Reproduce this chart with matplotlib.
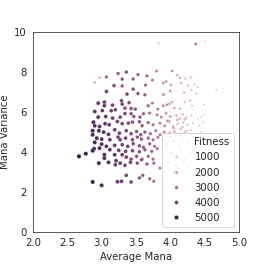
import matplotlib
matplotlib.use("Agg")
import matplotlib.pyplot as plt
from matplotlib.lines import Line2D
import seaborn as sns
import pandas as pd

# points: average mana, mana variance, fitness
avg_mana = [
    3.83, 4.37, 4.50,
    3.24, 3.36, 3.53, 3.66, 3.80, 4.03, 4.10, 4.14, 4.22, 4.30,
    2.90, 2.97, 3.07, 3.18, 3.30, 3.30, 3.46, 3.64, 3.74, 3.90, 3.94, 4.01, 4.16, 4.26, 4.36, 4.67,
    3.07, 3.37, 3.46, 3.53, 3.63, 3.90, 4.00, 4.20, 4.31, 4.38, 4.40,
    2.95, 3.04, 3.04, 3.16, 3.29, 3.30, 3.40, 3.34, 3.43, 3.49, 3.68, 3.74, 3.82, 3.90, 3.95, 3.99,
    4.03, 4.06, 4.14, 4.21, 4.32, 4.49, 4.29,
    2.90, 3.01, 3.14, 3.20, 2.95, 3.06, 3.16, 3.27, 3.34, 3.43, 3.47, 3.56, 3.61, 3.70, 3.81, 3.87,
    3.94, 4.00, 4.09, 4.18, 4.23, 4.31, 4.40, 4.45, 4.49,
    2.88, 2.97, 2.90, 3.05, 3.11, 3.23, 3.30, 3.39, 3.45, 3.55, 3.59, 3.68, 3.75, 3.85, 3.92, 3.99,
    4.04, 4.11, 4.19, 4.25, 4.33, 4.42, 4.48, 4.21, 4.14,
    2.87, 2.96, 2.87, 3.03, 3.10, 3.19, 3.26, 3.36, 3.43, 3.51, 3.57, 3.63, 3.71, 3.79, 3.85, 3.91,
    3.99, 2.93, 3.00, 3.12, 3.24, 3.27, 3.35, 3.45, 3.52, 3.58, 3.68, 3.75, 3.82, 4.06, 4.14, 4.21,
    2.90, 3.00, 3.07, 3.19, 3.30, 3.38, 3.46, 3.55, 3.61, 3.70, 3.77,
    2.89, 2.97, 3.12, 3.25, 3.35, 3.45, 3.55, 3.63, 3.73, 3.81,
    2.67, 2.77, 2.87, 3.04, 3.04, 3.19, 3.30, 3.36, 3.43, 3.51, 3.59, 3.68, 3.75,
    2.96, 3.10, 3.21, 3.27, 3.34, 3.42, 3.52, 3.58, 3.66, 3.76, 3.85, 3.20,
    3.36, 3.60, 3.55, 3.70, 3.76, 4.06, 2.87, 3.00, 3.23, 3.29, 3.43,
    3.95, 4.05, 4.12, 4.18, 4.25, 4.30, 4.02, 4.10, 4.16, 4.22, 4.28, 4.35, 3.98, 4.08, 4.20,
    4.26, 4.33, 4.12, 4.00, 4.15, 4.24, 3.90, 4.05, 4.18, 4.30, 4.38, 4.10, 3.96, 4.22, 4.44,
]
mana_var = [
    9.43, 9.40, 9.52,
    7.92, 7.99, 7.87, 7.80, 8.04, 8.05, 7.84, 7.72, 7.67, 7.72,
    7.47, 7.72, 7.75, 7.32, 7.64, 7.30, 7.65, 7.34, 7.59, 7.44, 7.52, 7.35, 7.44, 7.32, 7.39, 7.10,
    7.02, 6.89, 7.14, 6.92, 6.86, 6.87, 7.05, 6.97, 7.10, 6.92, 7.24,
    6.44, 6.49, 6.31, 6.34, 6.56, 6.39, 6.46, 6.19, 6.17, 6.14, 6.31, 6.44, 6.14, 6.31, 6.36, 6.41,
    6.49, 6.19, 6.16, 6.49, 6.31, 6.37, 6.56,
    6.02, 6.07, 6.06, 6.11, 5.74, 5.77, 5.69, 5.74, 5.92, 5.91, 5.77, 5.74, 5.91, 5.94, 5.86, 5.74,
    5.94, 5.77, 5.82, 5.89, 5.74, 5.82, 5.67, 5.74, 5.86,
    5.49, 5.27, 5.31, 5.41, 5.36, 5.52, 5.41, 5.44, 5.49, 5.51, 5.31, 5.47, 5.36, 5.44, 5.31, 5.52,
    5.27, 5.41, 5.47, 5.36, 5.44, 5.31, 5.47, 5.61, 5.67,
    5.06, 5.06, 4.86, 4.99, 4.88, 5.11, 4.94, 5.06, 4.91, 5.02, 4.86, 4.99, 4.91, 5.06, 4.86, 4.99,
    4.94, 4.69, 4.64, 4.61, 4.74, 4.61, 4.69, 4.61, 4.74, 4.64, 4.69, 4.61, 4.73, 5.02, 4.86, 4.98,
    4.48, 4.39, 4.28, 4.33, 4.36, 4.28, 4.41, 4.31, 4.23, 4.41, 4.28,
    4.16, 4.19, 4.11, 4.08, 4.03, 4.06, 4.01, 4.11, 4.03, 4.16,
    3.78, 3.91, 4.06, 3.86, 3.69, 3.86, 3.86, 3.74, 3.64, 3.78, 3.64, 3.78, 3.64,
    3.44, 3.48, 3.56, 3.44, 3.33, 3.48, 3.44, 3.61, 3.39, 3.44, 3.19, 3.36,
    2.83, 2.83, 2.70, 2.66, 2.53, 2.98, 2.50, 2.33, 2.51, 2.53, 2.50,
    4.40, 4.55, 4.30, 4.65, 4.45, 4.20, 3.95, 3.80, 4.05, 3.70, 3.90, 4.10, 3.50, 3.35, 3.55,
    3.30, 3.60, 3.15, 4.75, 5.15, 5.05, 4.60, 5.20, 5.25, 5.10, 4.90, 5.60, 5.55, 5.65, 5.00,
]
fitness = [
    900, 2400, 600,
    3300, 3500, 3100, 2900, 2300, 1900, 1500, 1300, 1100, 900,
    1500, 1400, 3000, 3700, 3500, 3300, 3200, 2900, 2500, 2000, 1900, 1600, 1200, 1000, 800, 700,
    4000, 3900, 3600, 3500, 3200, 2100, 1800, 1200, 1000, 900, 800,
    4300, 4200, 4300, 4000, 3800, 3900, 3700, 3800, 3600, 3500, 3000, 2600, 2400, 2100, 1900, 1700,
    1600, 1500, 1300, 1100, 900, 700, 1000,
    4300, 4200, 4000, 3900, 4500, 4300, 4100, 3900, 3800, 3600, 3500, 3300, 3100, 2800, 2400, 2200,
    1900, 1700, 1400, 1200, 1000, 900, 700, 600, 500,
    4700, 4500, 4600, 4400, 4200, 4000, 3900, 3800, 3600, 3400, 3300, 3000, 2700, 2400, 2100, 1800,
    1600, 1300, 1100, 1000, 800, 700, 600, 1200, 1400,
    4800, 4600, 4800, 4500, 4300, 4100, 4000, 3900, 3700, 3500, 3400, 3200, 2900, 2600, 2400, 2100,
    1800, 4700, 4500, 4300, 4100, 4000, 3900, 3700, 3500, 3400, 3100, 2800, 2500, 1600, 1300, 1100,
    4800, 4600, 4400, 4200, 4000, 3900, 3700, 3500, 3400, 3100, 2800,
    4900, 4700, 4400, 4100, 4000, 3800, 3600, 3400, 3100, 2700,
    5300, 5100, 5000, 4600, 4600, 4300, 4100, 3900, 3700, 3500, 3300, 3000, 2800,
    4800, 4500, 4300, 4200, 4000, 3900, 3600, 3400, 3200, 2900, 2500, 4200,
    3900, 3300, 3400, 3000, 2800, 2200, 5100, 4700, 4200, 4100, 3900,
    1800, 1500, 1300, 1100, 1000, 800, 1600, 1400, 1200, 1000, 900, 700, 1700, 1400, 1100,
    900, 700, 1300, 1800, 1300, 1000, 2000, 1600, 1200, 900, 400, 1400, 1900, 1100, 600,
]

df = pd.DataFrame({"Average Mana": avg_mana, "Mana Variance": mana_var, "Fitness": fitness})

sns.set_style("white")
plt.rcParams["font.size"] = 11
plt.rcParams["axes.labelsize"] = 11
plt.rcParams["xtick.labelsize"] = 11
plt.rcParams["ytick.labelsize"] = 11
plt.rcParams["legend.fontsize"] = 11

fig = plt.figure(figsize=(4, 4), dpi=66.5)
ax = fig.add_axes([0.124, 0.128, 0.774, 0.752])
sns.scatterplot(data=df, x="Average Mana", y="Mana Variance", hue="Fitness",
                size="Fitness", sizes=(4, 22), ax=ax)
ax.set_xlim(2, 5)
ax.set_ylim(0, 10)
ax.set_xticks([2.0, 2.5, 3.0, 3.5, 4.0, 4.5, 5.0])
ax.set_yticks([0, 2, 4, 6, 8, 10])

# old-style seaborn legend: "Fitness" as a first entry without a marker
leg = ax.get_legend()
handles = list(leg.legend_handles)
labels = [t.get_text() for t in leg.get_texts()]
blank = Line2D([], [], linestyle="", marker="")
ax.legend([blank] + handles, ["Fitness"] + labels, loc="lower right")
fig.savefig("out.png", dpi=66.5)
